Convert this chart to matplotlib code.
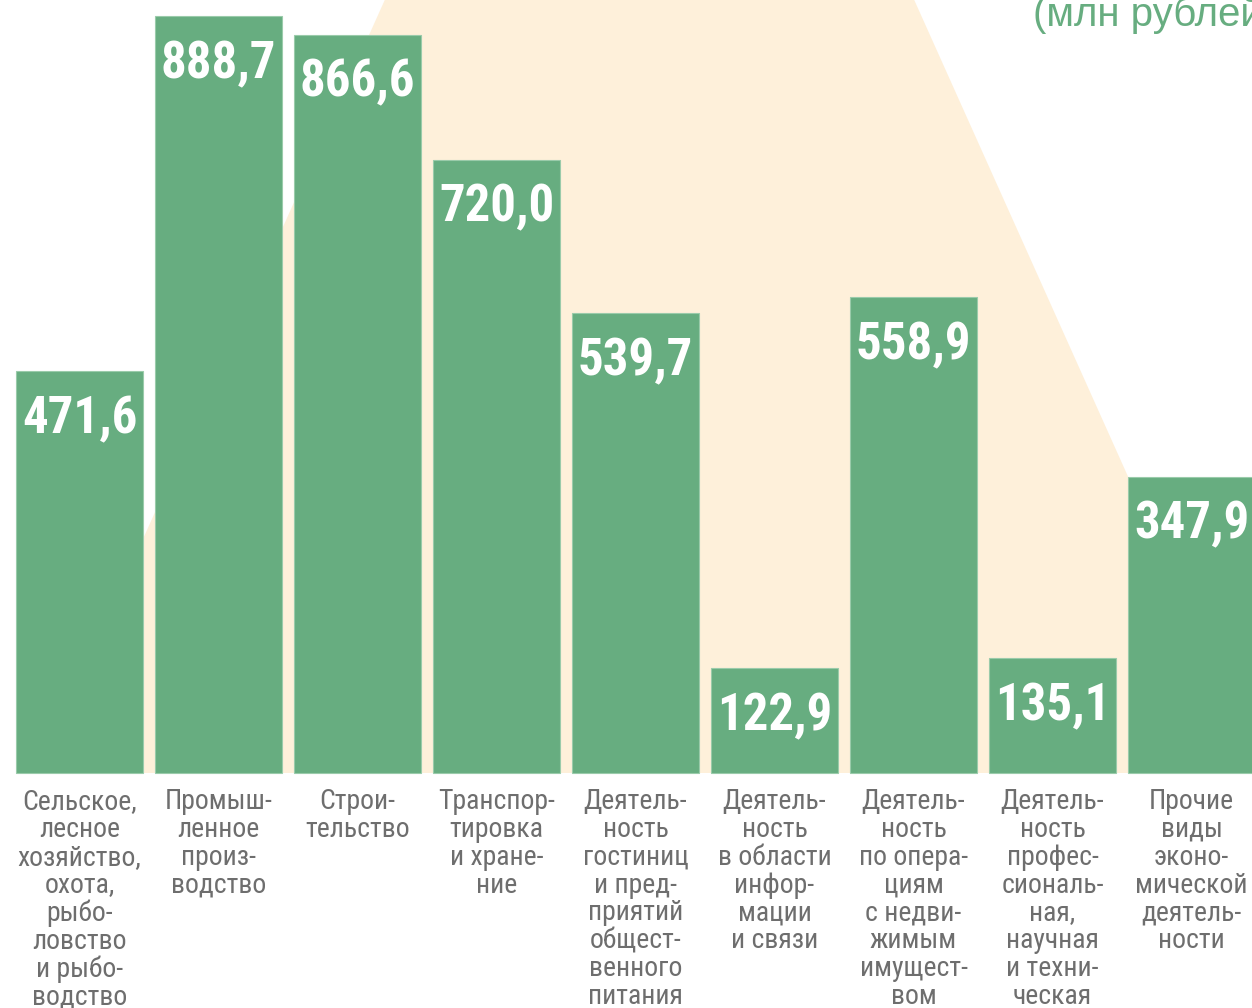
import matplotlib
matplotlib.use("Agg")
import matplotlib.pyplot as plt
from matplotlib.patches import Polygon

# --- данные ---
categories = [
    "Сельское,\nлесное\nхозяйство,\nохота,\nрыбо-\nловство\nи рыбо-\nводство",
    "Промыш-\nленное\nпроиз-\nводство",
    "Строи-\nтельство",
    "Транспор-\nтировка\nи хране-\nние",
    "Деятель-\nность\nгостиниц\nи пред-\nприятий\nобщест-\nвенного\nпитания",
    "Деятель-\nность\nв области\nинфор-\nмации\nи связи",
    "Деятель-\nность\nпо опера-\nциям\nс недви-\nжимым\nимущест-\nвом",
    "Деятель-\nность\nпрофес-\nсиональ-\nная,\nнаучная\nи техни-\nческая",
    "Прочие\nвиды\nэконо-\nмической\nдеятель-\nности",
]
values = [471.6, 888.7, 866.6, 720.0, 539.7, 122.9, 558.9, 135.1, 347.9]
unit_label = "(млн рублей)"

GREEN = "#67AD80"
CREAM = "#FEF0DA"
GREY = "#6E6E6E"
W, H = 1252, 1008

fig = plt.figure(figsize=(W / 100, H / 100), dpi=100)
fig.patch.set_facecolor("white")
ax = fig.add_axes([0, 0, 1, 1])
ax.patch.set_visible(False)
ax.set_xlim(-0.572, 8.435)
ax.set_ylim(-275.9, 907.5)
ax.axis("off")

# светлая трапеция на фоне
trap_px = [(387, -5), (912, -5), (1261, 773), (38, 773)]
trap = Polygon([(x / W, 1 - y / H) for x, y in trap_px], closed=True,
               facecolor=CREAM, edgecolor="none", transform=fig.transFigure,
               zorder=0, clip_on=False)
ax.add_patch(trap)

xs = list(range(len(values)))
ax.bar(xs, values, width=0.914, color=GREEN, edgecolor="#9ACBAA",
       linewidth=0.8, zorder=2)

for x, v in zip(xs, values):
    ax.annotate(f"{v:.1f}".replace(".", ","), xy=(x, v), xytext=(0, -62),
                textcoords="offset pixels", ha="center", va="baseline",
                color="white", fontsize=36.5, fontweight="bold",
                family="Roboto Condensed", zorder=3)

for x, lab in zip(xs, categories):
    ax.annotate(lab, xy=(x, 0), xytext=(0, -15), textcoords="offset pixels",
                ha="center", va="top", multialignment="center",
                color=GREY, fontsize=20, linespacing=1.04,
                family="Roboto Condensed", annotation_clip=False)

fig.text(1033 / W, 1 - 26 / H, unit_label, ha="left", va="baseline",
         color=GREEN, fontsize=29, family="Liberation Sans")

fig.savefig("out.png", dpi=100, facecolor="white")
